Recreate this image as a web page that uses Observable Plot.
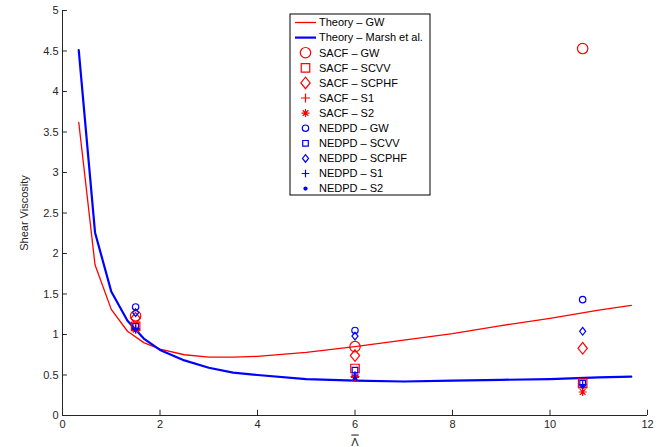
<!DOCTYPE html>
<html><head><meta charset="utf-8">
<script src="https://cdn.jsdelivr.net/npm/d3@7"></script>
<script src="https://cdn.jsdelivr.net/npm/@observablehq/plot@0.6"></script>
<style>
body{margin:0;background:#fff;}
#chart{position:relative;width:668px;height:447px;}
</style>
</head><body><div id="chart"></div>
<script>
// Theory curves
const curveX      = [0.333,0.667,1,1.333,1.667,2,2.5,3,3.5,4,5,6,7,8,9,10,11,11.667];
const theoryGW    = [3.62,1.86,1.31,1.04,0.90,0.82,0.75,0.72,0.72,0.73,0.78,0.85,0.93,1.01,1.11,1.20,1.30,1.36];
const theoryMarsh = [4.51,2.26,1.53,1.17,0.95,0.81,0.68,0.59,0.53,0.50,0.45,0.43,0.42,0.43,0.44,0.45,0.47,0.48];

// Simulation points
const groupX     = [1.5, 6, 10.67];
const sacfGW     = [1.23, 0.85, 4.53];
const sacfSCVV   = [1.10, 0.58, 0.40];
const sacfSCPHF  = [1.20, 0.74, 0.83];
const sacfS1     = [1.07, 0.48, 0.34];
const sacfS2     = [1.06, 0.47, 0.29];
const nedGW      = [1.34, 1.05, 1.43];
const nedSCVV    = [1.10, 0.56, 0.40];
const nedSCPHF   = [1.27, 0.98, 1.04];
const nedS1      = [1.07, 0.50, 0.38];
const nedS2      = [1.06, 0.46, 0.36];

const xTicks = [0,2,4,6,8,10,12];
const yTicks = [0,0.5,1,1.5,2,2.5,3,3.5,4,4.5,5];

const RED = "#ff0000", BLUE = "#0000ff";

// custom MATLAB-like symbols (half extent = r = sqrt(size/PI))
const R = s => Math.sqrt(s / Math.PI);
const symSquare = {draw(c, s){const h = R(s)*0.85; c.moveTo(-h,-h); c.lineTo(h,-h); c.lineTo(h,h); c.lineTo(-h,h); c.closePath();}};
const symDiamond = {draw(c, s){const r = R(s); c.moveTo(0,-r); c.lineTo(0.8*r,0); c.lineTo(0,r); c.lineTo(-0.8*r,0); c.closePath();}};
const symPlus = {draw(c, s){const r = R(s); c.moveTo(-r,0); c.lineTo(r,0); c.moveTo(0,-r); c.lineTo(0,r);}};
const symStar = {draw(c, s){const r = R(s); const d = r*0.7071; c.moveTo(-r,0); c.lineTo(r,0); c.moveTo(0,-r); c.lineTo(0,r); c.moveTo(-d,-d); c.lineTo(d,d); c.moveTo(-d,d); c.lineTo(d,-d);}};
const symCircle = {draw(c, s){const r = R(s); c.moveTo(r,0); c.arc(0,0,r,0,2*Math.PI);}};

const series = [
  {label:"SACF – GW",    vals:sacfGW,    color:RED,  sym:symCircle,  r:5.2, fill:false},
  {label:"SACF – SCVV",  vals:sacfSCVV,  color:RED,  sym:symSquare,  r:5.0, fill:false},
  {label:"SACF – SCPHF", vals:sacfSCPHF, color:RED,  sym:symDiamond, r:5.8, fill:false},
  {label:"SACF – S1",    vals:sacfS1,    color:RED,  sym:symPlus,    r:4.5, fill:false},
  {label:"SACF – S2",    vals:sacfS2,    color:RED,  sym:symStar,    r:4.0, fill:false},
  {label:"NEDPD – GW",   vals:nedGW,     color:BLUE, sym:symCircle,  r:3.2, fill:false},
  {label:"NEDPD – SCVV", vals:nedSCVV,   color:BLUE, sym:symSquare,  r:3.3, fill:false},
  {label:"NEDPD – SCPHF",vals:nedSCPHF,  color:BLUE, sym:symDiamond, r:3.8, fill:false},
  {label:"NEDPD – S1",   vals:nedS1,     color:BLUE, sym:symPlus,    r:3.8, fill:false},
  {label:"NEDPD – S2",   vals:nedS2,     color:BLUE, sym:symCircle,  r:2.1, fill:true}
];

const curves = [
  {label:"Theory – GW", vals:theoryGW, color:RED, w:1.3},
  {label:"Theory – Marsh et al.", vals:theoryMarsh, color:BLUE, w:2.2}
];

const marks = [
  Plot.axisX({ticks:xTicks, tickSize:0, tickPadding:5, label:"Λ", labelAnchor:"center", labelArrow:"none", labelOffset:30, fontSize:11}),
  Plot.axisY({ticks:yTicks, tickSize:0, tickPadding:4, tickFormat:d=>String(d), label:"Shear Viscosity", labelAnchor:"center", labelArrow:"none", labelOffset:42, fontSize:11}),
  Plot.ruleX(xTicks, {x:d=>d, y1:0, y2:0.065, stroke:"#262626", strokeWidth:1}),
  Plot.ruleY(yTicks, {y:d=>d, x1:0, x2:0.1, stroke:"#262626", strokeWidth:1}),
  Plot.ruleY([0], {stroke:"#262626"}),
  Plot.ruleX([0], {stroke:"#262626"})
];
for (const c of curves) {
  marks.push(Plot.line(curveX.map((x,i)=>({x, y:c.vals[i]})), {x:"x", y:"y", stroke:c.color, strokeWidth:c.w, curve:"linear"}));
}
for (const s of series) {
  marks.push(Plot.dot(groupX.map((x,i)=>({x, y:s.vals[i]})), {
    x:"x", y:"y", symbol:s.sym, r:s.r,
    stroke: s.fill ? "none" : s.color, fill: s.fill ? s.color : "none", strokeWidth:1.2
  }));
}

const svg = Plot.plot({
  width:668, height:447,
  marginLeft:62, marginRight:21, marginTop:10, marginBottom:32,
  x:{domain:[0,12]}, y:{domain:[0,5]},
  style:{fontFamily:"'Liberation Sans', Arial, sans-serif", fontSize:"11px", color:"#262626", background:"#fff"},
  marks
});
document.getElementById("chart").appendChild(svg);

// overbar on the x-axis label (Λ̄)
d3.select(svg).selectAll('[aria-label="x-axis label"] text').style("text-decoration","overline");

// Legend (MATLAB style box, north)
const lg = d3.select(svg).append("g")
  .attr("font-family","'Liberation Sans', Arial, sans-serif").attr("font-size","11px").attr("text-anchor","start");
const bx = 290, by = 14, bw = 140, bh = 181, rowH = 15.1, y0 = 22.5;
lg.append("rect").attr("x",bx).attr("y",by).attr("width",bw).attr("height",bh).attr("fill","#fff").attr("stroke","#000").attr("stroke-width",1);
curves.forEach((c,i)=>{
  const y = y0 + i*rowH;
  lg.append("line").attr("x1",295).attr("x2",316).attr("y1",y).attr("y2",y).attr("stroke",c.color).attr("stroke-width",c.w);
  lg.append("text").attr("x",319).attr("y",y).attr("dy","0.35em").attr("fill","#000").text(c.label);
});
series.forEach((s,i)=>{
  const y = y0 + (i+2)*rowH;
  const p = d3.path(); s.sym.draw(p, Math.PI*s.r*s.r);
  lg.append("path").attr("d",p.toString()).attr("transform",`translate(305.5,${y})`)
    .attr("fill", s.fill ? s.color : "none").attr("stroke", s.fill ? "none" : s.color).attr("stroke-width",1.2);
  lg.append("text").attr("x",319).attr("y",y).attr("dy","0.35em").attr("fill","#000").text(s.label);
});
</script>
</body></html>
